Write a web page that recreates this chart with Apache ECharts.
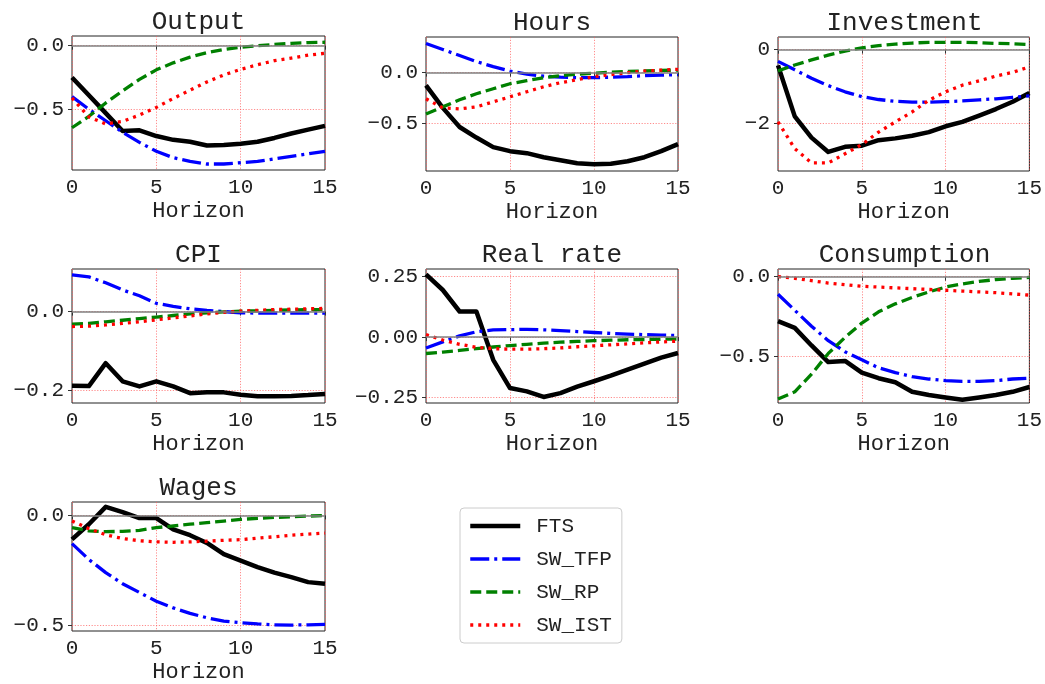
<!DOCTYPE html>
<html><head><meta charset="utf-8">
<script src="https://cdn.jsdelivr.net/npm/echarts@6/dist/echarts.min.js"></script>
<style>html,body{margin:0;padding:0;background:#fff}#c{width:1045px;height:684px}</style>
</head><body><div id="c"></div>
<script>
const horizon = [0,1,2,3,4,5,6,7,8,9,10,11,12,13,14,15];
const panelTitles = ['Output','Hours','Investment','CPI','Real rate','Consumption','Wages'];
const seriesNames = ['FTS','SW_TFP','SW_RP','SW_IST'];

const outputFTS = [-0.25,-0.39,-0.53,-0.67,-0.665,-0.71,-0.74,-0.755,-0.785,-0.78,-0.77,-0.755,-0.725,-0.69,-0.66,-0.63];
const outputTFP = [-0.40,-0.50,-0.59,-0.68,-0.76,-0.83,-0.88,-0.91,-0.93,-0.93,-0.92,-0.91,-0.89,-0.87,-0.85,-0.83];
const outputRP  = [-0.645,-0.555,-0.45,-0.355,-0.265,-0.19,-0.135,-0.09,-0.055,-0.03,-0.013,0.0,0.01,0.018,0.024,0.027];
const outputIST = [-0.41,-0.56,-0.615,-0.595,-0.545,-0.485,-0.415,-0.35,-0.285,-0.23,-0.186,-0.15,-0.118,-0.098,-0.075,-0.06];

const hoursFTS = [-0.126,-0.35,-0.54,-0.645,-0.74,-0.78,-0.80,-0.84,-0.87,-0.90,-0.91,-0.905,-0.88,-0.84,-0.78,-0.71];
const hoursTFP = [0.29,0.23,0.17,0.11,0.06,0.015,-0.015,-0.035,-0.045,-0.05,-0.05,-0.045,-0.04,-0.03,-0.025,-0.02];
const hoursRP  = [-0.41,-0.34,-0.27,-0.21,-0.16,-0.11,-0.08,-0.05,-0.03,-0.015,-0.005,0.005,0.012,0.018,0.022,0.025];
const hoursIST = [-0.26,-0.35,-0.36,-0.34,-0.29,-0.24,-0.19,-0.14,-0.10,-0.07,-0.04,-0.02,0.0,0.015,0.025,0.033];

const invFTS = [-0.43,-1.82,-2.40,-2.79,-2.65,-2.62,-2.47,-2.42,-2.35,-2.25,-2.09,-1.97,-1.80,-1.62,-1.42,-1.18];
const invTFP = [-0.32,-0.55,-0.78,-0.98,-1.15,-1.28,-1.36,-1.41,-1.43,-1.43,-1.42,-1.40,-1.37,-1.34,-1.30,-1.26];
const invRP  = [-0.58,-0.42,-0.28,-0.15,-0.04,0.05,0.11,0.15,0.18,0.20,0.20,0.20,0.19,0.17,0.16,0.14];
const invIST = [-1.97,-2.70,-3.09,-3.09,-2.84,-2.59,-2.25,-1.97,-1.70,-1.38,-1.15,-0.97,-0.85,-0.72,-0.62,-0.47];

const cpiFTS = [-0.188,-0.189,-0.131,-0.177,-0.19,-0.177,-0.19,-0.207,-0.205,-0.205,-0.211,-0.215,-0.215,-0.214,-0.212,-0.209];
const cpiTFP = [0.093,0.088,0.073,0.055,0.04,0.021,0.013,0.007,0.003,0.0,-0.003,-0.004,-0.004,-0.004,-0.004,-0.004];
const cpiRP  = [-0.032,-0.03,-0.026,-0.022,-0.018,-0.014,-0.01,-0.006,-0.003,-0.001,0.001,0.002,0.003,0.004,0.005,0.005];
const cpiIST = [-0.038,-0.037,-0.034,-0.03,-0.026,-0.021,-0.016,-0.011,-0.006,-0.002,0.001,0.003,0.005,0.006,0.007,0.008];

const rateFTS = [0.26,0.195,0.106,0.106,-0.094,-0.211,-0.225,-0.248,-0.232,-0.205,-0.183,-0.16,-0.135,-0.11,-0.085,-0.066];
const rateTFP = [-0.045,-0.02,0.005,0.022,0.03,0.031,0.032,0.03,0.027,0.023,0.019,0.015,0.012,0.01,0.008,0.007];
const rateRP  = [-0.068,-0.062,-0.055,-0.048,-0.041,-0.035,-0.03,-0.025,-0.021,-0.018,-0.015,-0.013,-0.011,-0.01,-0.009,-0.008];
const rateIST = [0.01,-0.012,-0.03,-0.042,-0.048,-0.05,-0.05,-0.048,-0.045,-0.04,-0.036,-0.032,-0.028,-0.024,-0.02,-0.017];

const consFTS = [-0.278,-0.32,-0.43,-0.534,-0.527,-0.60,-0.635,-0.66,-0.72,-0.74,-0.755,-0.77,-0.755,-0.74,-0.72,-0.69];
const consTFP = [-0.11,-0.21,-0.31,-0.40,-0.47,-0.52,-0.57,-0.60,-0.625,-0.64,-0.65,-0.655,-0.655,-0.65,-0.64,-0.635];
const consRP  = [-0.765,-0.72,-0.61,-0.48,-0.38,-0.29,-0.22,-0.17,-0.13,-0.095,-0.065,-0.045,-0.03,-0.018,-0.01,-0.005];
const consIST = [0.0,-0.01,-0.025,-0.04,-0.05,-0.06,-0.065,-0.07,-0.075,-0.08,-0.085,-0.09,-0.095,-0.10,-0.108,-0.115];

const wageFTS = [-0.109,-0.04,0.039,0.015,-0.012,-0.012,-0.063,-0.09,-0.125,-0.176,-0.205,-0.235,-0.26,-0.28,-0.303,-0.31];
const wageTFP = [-0.128,-0.2,-0.26,-0.31,-0.35,-0.39,-0.42,-0.445,-0.465,-0.48,-0.487,-0.493,-0.497,-0.498,-0.497,-0.495];
const wageRP  = [-0.055,-0.07,-0.074,-0.072,-0.068,-0.055,-0.048,-0.04,-0.033,-0.026,-0.018,-0.013,-0.009,-0.006,-0.003,0.0];
const wageIST = [-0.025,-0.06,-0.088,-0.105,-0.115,-0.12,-0.122,-0.12,-0.117,-0.113,-0.11,-0.103,-0.097,-0.09,-0.085,-0.08];

const xTicks = [0,5,10,15];
const yTicks = [[-0.5,0],[-0.5,0],[-2,0],[-0.2,0],[-0.25,0,0.25],[-0.5,0],[-0.5,0]];
const yDecimals = [1,1,0,1,2,1,1];
const yRange = [[-0.977,0.076],[-0.977,0.354],[-3.31,0.345],[-0.232,0.108],[-0.273,0.282],[-0.79,0.048],[-0.525,0.061]];

const panelData = [
  [outputFTS,outputTFP,outputRP,outputIST],
  [hoursFTS,hoursTFP,hoursRP,hoursIST],
  [invFTS,invTFP,invRP,invIST],
  [cpiFTS,cpiTFP,cpiRP,cpiIST],
  [rateFTS,rateTFP,rateRP,rateIST],
  [consFTS,consTFP,consRP,consIST],
  [wageFTS,wageTFP,wageRP,wageIST]
];

const FONT = "'Liberation Mono','DejaVu Sans Mono',monospace";
const TXT = '#222';
const boxes = [[72,36,253,134],[426,37,252,134],[778,37,253,134],[72,269,253,134],[426,269,252,134],[778,269,253,134],[72,502,253,134]];
const styles = [
  {color:'#000000', width:4.5, type:'solid'},
  {color:'#0000ff', width:3.3, type:[19,5,3,5]},
  {color:'#008000', width:3.3, type:[11,5]},
  {color:'#ff0000', width:3.3, type:[3,5]}
];
const gridLine = {show:true, lineStyle:{color:'#ff5a5a', width:0.7, type:[1.2,1.6]}};

const grids=[], xAxes=[], yAxes=[], series=[], graphics=[];
boxes.forEach((b,i)=>{
  grids.push({left:b[0], top:b[1], width:b[2], height:b[3], show:true, borderColor:'#222', borderWidth:1, backgroundColor:'transparent'});
  xAxes.push({gridIndex:i, type:'value', min:0, max:15, interval:5,
    axisLine:{show:false}, axisTick:{show:true, length:4, lineStyle:{color:'#333'}},
    axisLabel:{fontFamily:FONT, fontSize:21, color:TXT, margin:7, showMinLabel:true, showMaxLabel:true},
    splitLine:gridLine,
    name:'Horizon', nameLocation:'middle', nameGap:30,
    nameTextStyle:{fontFamily:FONT, fontSize:22, color:TXT}});
  const dec = yDecimals[i];
  yAxes.push({gridIndex:i, type:'value', min:yRange[i][0], max:yRange[i][1],
    axisLine:{show:false},
    axisTick:{show:true, length:4, lineStyle:{color:'#333'}, customValues:yTicks[i]},
    axisLabel:{fontFamily:FONT, fontSize:21, color:TXT, margin:8, customValues:yTicks[i],
      formatter:v=>Number(v).toFixed(dec).replace('-','\u2212')},
    splitLine:gridLine});
  series.push({type:'line', xAxisIndex:i, yAxisIndex:i, data:[], silent:true, z:1,
    markLine:{silent:true, symbol:['none','none'], label:{show:false}, animation:false,
      lineStyle:{color:'#808080', width:1.5, type:'solid'}, data:[{yAxis:0}]}});
  panelData[i].forEach((arr,k)=>{
    series.push({type:'line', name:seriesNames[k], xAxisIndex:i, yAxisIndex:i, z:2,
      data:horizon.map((h,j)=>[h,arr[j]]), showSymbol:false, symbol:'none',
      lineStyle:{color:styles[k].color, width:styles[k].width, type:styles[k].type, cap:'butt', join:'round'},
      itemStyle:{color:styles[k].color}});
  });
  graphics.push({type:'text', x:b[0]+b[2]/2, y:b[1]-14, style:{text:panelTitles[i], fontFamily:FONT, fontSize:26, fill:TXT, textAlign:'center', textVerticalAlign:'middle'}});
});

const legendData = seriesNames.map((n,k)=>({name:n,
  lineStyle:{color:styles[k].color, width:styles[k].width, type:styles[k].type, cap:'butt'},
  itemStyle:{opacity:0}}));

const chart = echarts.init(document.getElementById('c'), null, {renderer:'canvas'});
chart.setOption({
  animation:false,
  backgroundColor:'#fff',
  grid:grids, xAxis:xAxes, yAxis:yAxes, series:series, graphic:graphics,
  legend:{data:legendData, orient:'vertical', left:460, top:508, itemWidth:50, itemHeight:14, itemGap:11,
    padding:[7,10,7,8], borderColor:'#cccccc', borderWidth:1, borderRadius:4, backgroundColor:'#fff',
    selectedMode:false, itemStyle:{opacity:0},
    textStyle:{fontFamily:FONT, fontSize:21, color:TXT, padding:[0,0,0,11], lineHeight:22}}
});
</script></body></html>
